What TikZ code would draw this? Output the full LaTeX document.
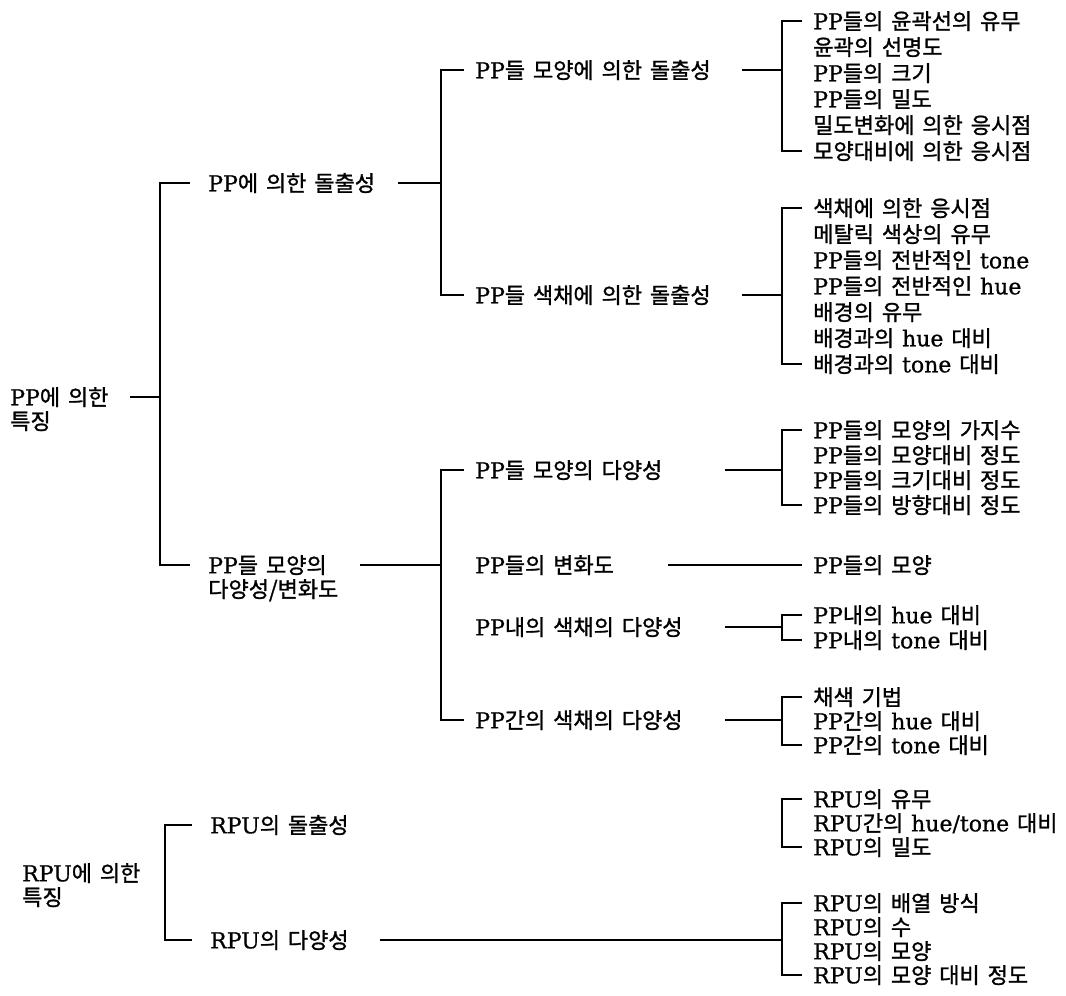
\documentclass[tikz,border=0pt]{standalone}
\usepackage{fontspec}
\setmainfont[WordSpace=1.6,FakeBold=1.2]{Noto Sans CJK KR}
\newfontfamily\latfont[FakeBold=0.8]{DejaVu Serif}
\newcommand\E[1]{{\latfont #1}}
\tikzset{
  lbl/.style={anchor=west, inner sep=0pt, text height=13.2pt, text depth=0.7pt,
              font=\fontsize{16.5}{20}\selectfont},
  conn/.style={line width=1.4pt}
}
\begin{document}
\begin{tikzpicture}[x=0.75pt,y=-0.75pt]
\useasboundingbox (0,0) rectangle (1066,995);
% ---------- level 0 ----------
\node[lbl] (r1a) at (10,397) {\E{PP}에 의한};
\node[lbl] (r1b) at (10,421) {특징};
\node[lbl] (p1a) at (22,873) {\E{RPU}에 의한};
\node[lbl] (p1b) at (22,897) {특징};
% ---------- level 1 ----------
\node[lbl] (c1) at (208,183) {\E{PP}에 의한 돌출성};
\node[lbl] (c2a) at (208,565) {\E{PP}들 모양의};
\node[lbl] (c2b) at (208,589) {다양성/변화도};
\node[lbl] (q1) at (210,825) {\E{RPU}의 돌출성};
\node[lbl] (q2) at (210,940) {\E{RPU}의 다양성};
% ---------- level 2 ----------
\node[lbl] (d1) at (475,70) {\E{PP}들 모양에 의한 돌출성};
\node[lbl] (d2) at (475,295) {\E{PP}들 색채에 의한 돌출성};
\node[lbl] (d3) at (475,470) {\E{PP}들 모양의 다양성};
\node[lbl] (d4) at (475,565) {\E{PP}들의 변화도};
\node[lbl] (d5) at (475,627) {\E{PP}내의 색채의 다양성};
\node[lbl] (d6) at (475,720) {\E{PP}간의 색채의 다양성};
% ---------- leaves ----------
\node[lbl] (e1) at (813,21) {\E{PP}들의 윤곽선의 유무};
\node[lbl] (e2) at (813,47) {윤곽의 선명도};
\node[lbl] (e3) at (813,73) {\E{PP}들의 크기};
\node[lbl] (e4) at (813,99) {\E{PP}들의 밀도};
\node[lbl] (e5) at (813,125) {밀도변화에 의한 응시점};
\node[lbl] (e6) at (813,151) {모양대비에 의한 응시점};
\node[lbl] (f1) at (813,208) {색채에 의한 응시점};
\node[lbl] (f2) at (813,234) {메탈릭 색상의 유무};
\node[lbl] (f3) at (813,260) {\E{PP}들의 전반적인 \E{tone}};
\node[lbl] (f4) at (813,286) {\E{PP}들의 전반적인 \E{hue}};
\node[lbl] (f5) at (813,312) {배경의 유무};
\node[lbl] (f6) at (813,338) {배경과의 \E{hue} 대비};
\node[lbl] (f7) at (813,364) {배경과의 \E{tone} 대비};
\node[lbl] (g1) at (813,430) {\E{PP}들의 모양의 가지수};
\node[lbl] (g2) at (813,455) {\E{PP}들의 모양대비 정도};
\node[lbl] (g3) at (813,480) {\E{PP}들의 크기대비 정도};
\node[lbl] (g4) at (813,505) {\E{PP}들의 방향대비 정도};
\node[lbl] (h1) at (813,565) {\E{PP}들의 모양};
\node[lbl] (i1) at (813,615) {\E{PP}내의 \E{hue} 대비};
\node[lbl] (i2) at (813,640) {\E{PP}내의 \E{tone} 대비};
\node[lbl] (m1) at (813,697) {채색 기법};
\node[lbl] (m2) at (813,721) {\E{PP}간의 \E{hue} 대비};
\node[lbl] (m3) at (813,745) {\E{PP}간의 \E{tone} 대비};
\node[lbl] (n1) at (813,799) {\E{RPU}의 유무};
\node[lbl] (n2) at (813,823) {\E{RPU}간의 \E{hue/tone} 대비};
\node[lbl] (n3) at (813,847) {\E{RPU}의 밀도};
\node[lbl] (o1) at (813,903) {\E{RPU}의 배열 방식};
\node[lbl] (o2) at (813,927) {\E{RPU}의 수};
\node[lbl] (o3) at (813,951) {\E{RPU}의 모양};
\node[lbl] (o4) at (813,975) {\E{RPU}의 모양 대비 정도};
% ---------- junctions and stem starts ----------
\coordinate (r1s) at (130,397);
\coordinate (k1) at (160,397);
\coordinate (k2) at (441,183);
\coordinate (k3) at (441,565);
\coordinate (k4) at (165,880);
\coordinate (c1s) at (398,183);
\coordinate (c2s) at (360,565);
\coordinate (q2s) at (380,940);
\coordinate (d1s) at (742,70);
\coordinate (d2s) at (742,295);
\coordinate (d3s) at (725,470);
\coordinate (d4s) at (668,565);
\coordinate (d5s) at (725,627);
\coordinate (d6s) at (725,720);
\coordinate (j1) at (782,70);
\coordinate (j2) at (782,295);
\coordinate (j3) at (782,470);
\coordinate (j5) at (782,627);
\coordinate (j6) at (782,720);
\coordinate (j7) at (782,823);
\coordinate (j8) at (782,940);
% ---------- connectors ----------
\draw[conn] (r1s) -- (k1);
\draw[conn] ([xshift=-13.5pt]c1.west) -| (k1) |- ([xshift=-13.5pt]c2a.west);
\draw[conn] (c1s) -- (k2);
\draw[conn] ([xshift=-8pt]d1.west) -| (k2) |- ([xshift=-8pt]d2.west);
\draw[conn] (c2s) -- (k3);
\draw[conn] ([xshift=-8pt]d3.west) -| (k3) |- ([xshift=-8pt]d6.west);
\draw[conn] ([xshift=-13.5pt]q1.west) -| (k4) |- ([xshift=-13.5pt]q2.west);
\draw[conn] (d1s) -- (j1);
\draw[conn] ([xshift=-8pt]e1.west) -| (j1) |- ([xshift=-8pt]e6.west);
\draw[conn] (d2s) -- (j2);
\draw[conn] ([xshift=-8pt]f1.west) -| (j2) |- ([xshift=-8pt]f7.west);
\draw[conn] (d3s) -- (j3);
\draw[conn] ([xshift=-8pt]g1.west) -| (j3) |- ([xshift=-8pt]g4.west);
\draw[conn] (d4s) -- ([xshift=-8pt]h1.west);
\draw[conn] (d5s) -- (j5);
\draw[conn] ([xshift=-8pt]i1.west) -| (j5) |- ([xshift=-8pt]i2.west);
\draw[conn] (d6s) -- (j6);
\draw[conn] ([xshift=-8pt]m1.west) -| (j6) |- ([xshift=-8pt]m3.west);
\draw[conn] ([xshift=-8pt]n1.west) -| (j7) |- ([xshift=-8pt]n3.west);
\draw[conn] (q2s) -- (j8);
\draw[conn] ([xshift=-8pt]o1.west) -| (j8) |- ([xshift=-8pt]o4.west);
\end{tikzpicture}
\end{document}
